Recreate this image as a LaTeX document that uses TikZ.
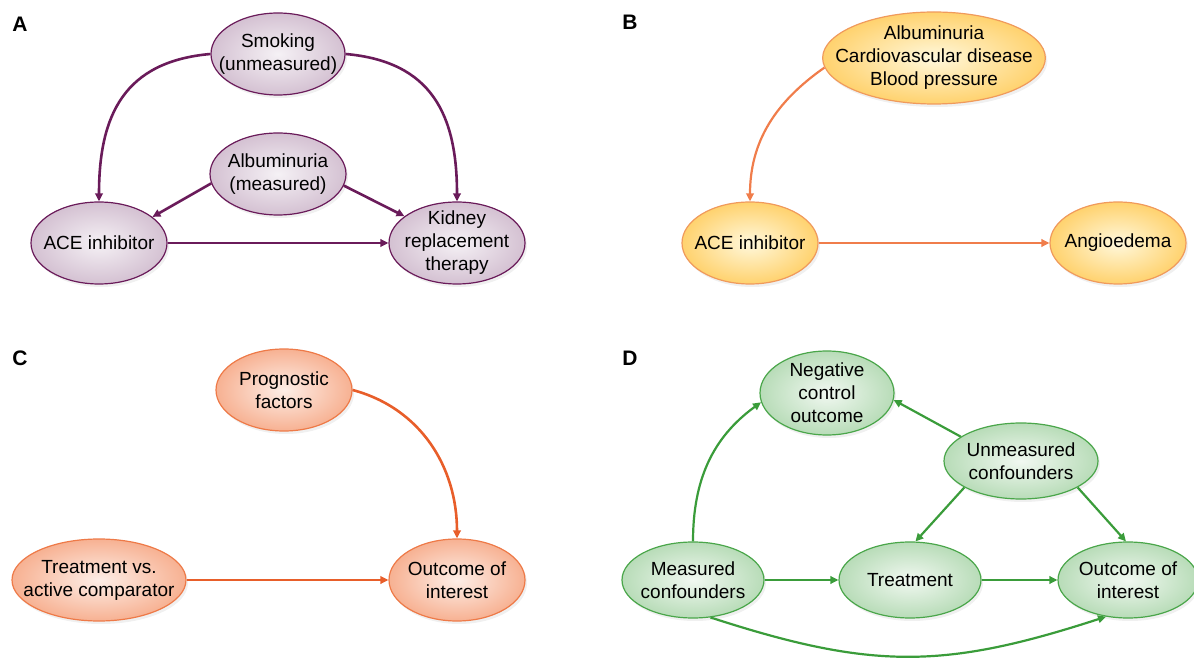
\documentclass[tikz,border=0pt]{standalone}
\usepackage{fontspec}
\setmainfont{Liberation Sans}
\usetikzlibrary{arrows.meta,shapes.geometric,shadows}
\definecolor{purA}{HTML}{6A1B5A}
\definecolor{purIn}{HTML}{F5F1F5}
\definecolor{purOut}{HTML}{D4C1D2}
\definecolor{orgB}{HTML}{F07D4B}
\definecolor{orgLine}{HTML}{F09A5C}
\definecolor{yelIn}{HTML}{FFF8DC}
\definecolor{yelOut}{HTML}{FFD26E}
\definecolor{redC}{HTML}{E85E2A}
\definecolor{redLine}{HTML}{EE7A48}
\definecolor{pchIn}{HTML}{FDEEE7}
\definecolor{pchOut}{HTML}{F7B192}
\definecolor{grnD}{HTML}{3A9C3A}
\definecolor{grnLine}{HTML}{4AA64A}
\definecolor{grnIn}{HTML}{F1F8F1}
\definecolor{grnOut}{HTML}{B8DCB8}

\begin{document}
\begin{tikzpicture}[x=1pt, y=1pt,
    bub/.style={ellipse, inner xsep=-20pt, inner ysep=-14pt, align=center,
        font=\fontsize{19}{23}\selectfont, line width=1.2pt,
        drop shadow={opacity=0.12, shadow xshift=2pt, shadow yshift=-3pt}},
    bubA/.style={bub, draw=purA, inner color=purIn, outer color=purOut},
    bubB/.style={bub, draw=orgLine, inner color=yelIn, outer color=yelOut},
    bubC/.style={bub, draw=redLine, inner color=pchIn, outer color=pchOut},
    bubD/.style={bub, draw=grnLine, inner color=grnIn, outer color=grnOut},
    arr/.style={-{Triangle[length=8pt, width=7.5pt]}},
    arrA/.style={arr, draw=purA, line width=2.6pt},
    arrB/.style={arr, draw=orgB, line width=2.2pt},
    arrC/.style={arr, draw=redC, line width=2.6pt},
    arrD/.style={arr, draw=grnD, line width=2.2pt},
    lab/.style={font=\fontsize{21}{21}\selectfont\bfseries}]
    \useasboundingbox (0,0) rectangle (1194,659);

    \node[lab] (labA) at (20,635) {A};
    \node[bubA, minimum width=134pt, minimum height=82pt] (smoke) at (278,605) {Smoking\\(unmeasured)};
    \node[bubA, minimum width=136pt, minimum height=82pt] (albA) at (278,485) {Albuminuria\\(measured)};
    \node[bubA, minimum width=136pt, minimum height=82pt] (aceA) at (99,416) {ACE inhibitor};
    \node[bubA, minimum width=136pt, minimum height=82pt] (kidney) at (457,416) {Kidney\\replacement\\therapy};
    \draw[arrA] (smoke.west) to[out=185, in=90, looseness=1.2] (aceA.north);
    \draw[arrA] (smoke.east) to[out=-5, in=90, looseness=1.2] (kidney.north);
    \draw[arrA] (albA.188) -- (aceA.26);
    \draw[arrA] (albA.350) -- (kidney.153);
    \draw[arrA] (aceA) -- (kidney);

    \node[lab] (labB) at (630,637) {B};
    \node[bubB, minimum width=222pt, minimum height=92pt] (riskB) at (934,601) {Albuminuria\\Cardiovascular disease\\Blood pressure};
    \node[bubB, minimum width=136pt, minimum height=82pt] (aceB) at (750,416) {ACE inhibitor};
    \node[bubB, minimum width=136pt, minimum height=82pt] (angio) at (1118,416) {Angioedema};
    \draw[arrB] (riskB.185) to[out=215, in=90] (aceB.north);
    \draw[arrB] (aceB) -- (angio);

    \node[lab] (labC) at (20,301) {C};
    \node[bubC, minimum width=136pt, minimum height=82pt] (prog) at (284,269) {Prognostic\\factors};
    \node[bubC, minimum width=174pt, minimum height=82pt] (treatC) at (99,79) {Treatment vs.\\active comparator};
    \node[bubC, minimum width=136pt, minimum height=82pt] (outC) at (457,79) {Outcome of\\interest};
    \draw[arrC] (prog.east) to[out=-15, in=90] (outC.north);
    \draw[arrC] (treatC) -- (outC);

    \node[lab] (labD) at (630,301) {D};
    \node[bubD, minimum width=134pt, minimum height=84pt] (negD) at (827,266) {Negative\\control\\outcome};
    \node[bubD, minimum width=154pt, minimum height=76pt] (unmD) at (1021,198) {Unmeasured\\confounders};
    \node[bubD, minimum width=142pt, minimum height=76pt] (measD) at (693,79) {Measured\\confounders};
    \node[bubD, minimum width=142pt, minimum height=76pt] (treatD) at (910,79) {Treatment};
    \node[bubD, minimum width=140pt, minimum height=76pt] (outD) at (1128,79) {Outcome of\\interest};
    \draw[arrD] (measD.north) to[out=90, in=216] (negD.188);
    \draw[arrD] (unmD.158) -- (negD.354);
    \draw[arrD] (unmD.205) -- (treatD.82);
    \draw[arrD] (unmD.335) -- (outD.93);
    \draw[arrD] (measD) -- (treatD);
    \draw[arrD] (treatD) -- (outD);
    \draw[arrD] (measD.295) to[out=-18, in=198, looseness=1.1] (outD.239);
\end{tikzpicture}
\end{document}
